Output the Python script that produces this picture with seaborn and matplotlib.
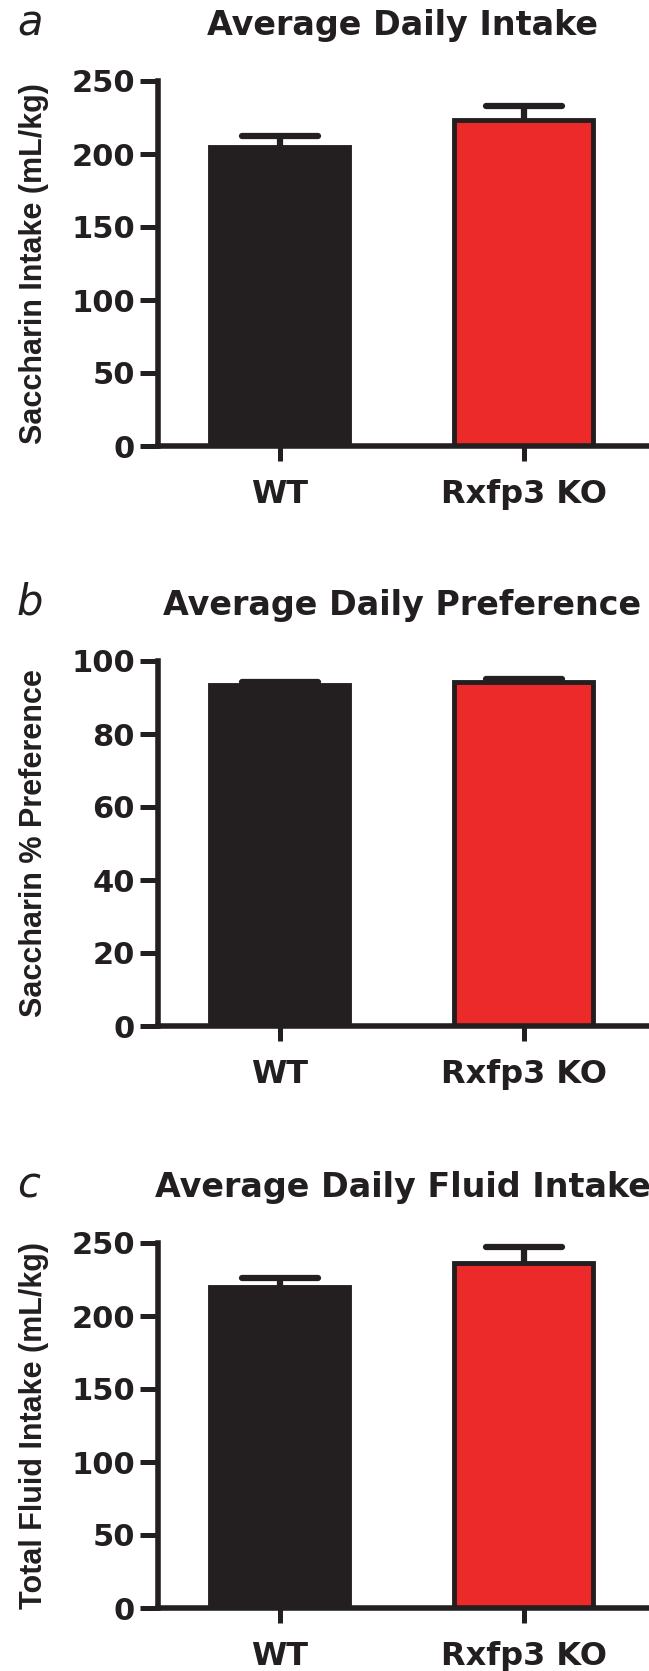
import numpy as np
import matplotlib
matplotlib.use('Agg')
import matplotlib.pyplot as plt
import seaborn as sns

# values (mean and upper SEM)
groups = ['WT', 'Rxfp3 KO']
intake_mean = [205, 223]
intake_sem = [7, 10]
pref_mean = [93.4, 94.3]
pref_sem = [0.9, 0.7]
fluid_mean = [220, 236.5]
fluid_sem = [6, 10.5]

bar_colors = ['#231F20', '#EC2A2A']
ink = '#231F20'

sns.set_style('ticks')
plt.rcParams['font.family'] = ['DejaVu Sans']
plt.rcParams['text.color'] = ink
plt.rcParams['axes.labelcolor'] = ink
plt.rcParams['xtick.color'] = ink
plt.rcParams['ytick.color'] = ink

panels = [
    ('a', 'Average Daily Intake', 'Saccharin Intake (mL/kg)',
     intake_mean, intake_sem, 250, 50, 446, 35),
    ('b', 'Average Daily Preference', 'Saccharin % Preference',
     pref_mean, pref_sem, 100, 20, 1026, 614),
    ('c', 'Average Daily Fluid Intake', 'Total Fluid Intake (mL/kg)',
     fluid_mean, fluid_sem, 250, 50, 1608, 1197),
]

W, H = 649, 1671
fig = plt.figure(figsize=(W / 100, H / 100), dpi=100)

for letter, title, ylabel, means, sems, ymax, step, bottom_px, base_px in panels:
    ax = fig.add_axes([158 / W, 1 - bottom_px / H, 489 / W, 365 / H])
    sns.barplot(x=groups, y=means, hue=groups, palette=bar_colors, legend=False,
                saturation=1, width=0.57, edgecolor=ink, linewidth=3.5,
                errorbar=None, ax=ax)

    # upward-only error bars
    xs = np.arange(len(groups))
    tops = np.array(means) + np.array(sems)
    ax.vlines(xs, means, tops, colors=ink, linewidth=4.5, zorder=3, clip_on=False)
    caps = ax.hlines(tops, xs - 0.155, xs + 0.155, colors=ink, linewidth=4.5,
                     zorder=3, clip_on=False)
    caps.set_capstyle('round')

    ax.set_xlim(-0.5, 1.505)
    ax.set_ylim(0, ymax)
    ax.set_yticks(np.arange(0, ymax + 1, step))
    sns.despine(ax=ax)
    for side in ['left', 'bottom']:
        ax.spines[side].set_linewidth(4)
        ax.spines[side].set_color(ink)

    ax.tick_params(axis='y', length=13, width=3.6, pad=3.5, labelsize=22)
    ax.tick_params(axis='x', length=11, width=3.6, pad=13, labelsize=23)
    for lab in ax.get_xticklabels() + ax.get_yticklabels():
        lab.set_fontweight('bold')

    ax.set_xlabel('')
    ax.set_ylabel(ylabel, fontsize=22, fontweight='bold',
                  family=['Liberation Sans', 'DejaVu Sans'])
    ax.yaxis.set_label_coords(-0.222, 0.5)
    ax.set_title(title, fontsize=24, fontweight='bold', pad=33)

    fig.text(17 / W, 1 - base_px / H, letter, fontsize=30, style='italic',
             va='baseline', ha='left')

fig.savefig('out.png', dpi=100)
